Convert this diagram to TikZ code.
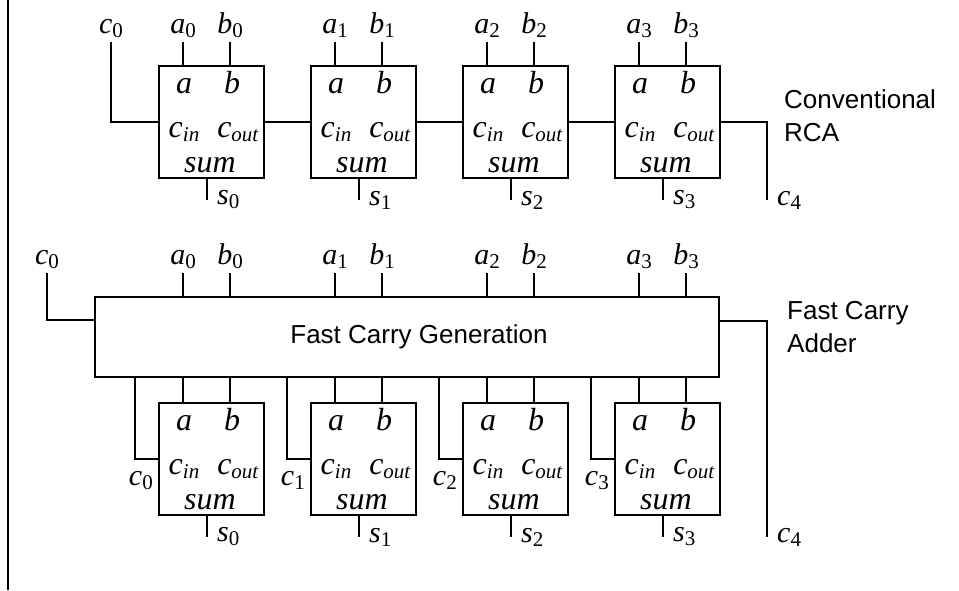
\documentclass[tikz,border=0pt]{standalone}
\usepackage{fontspec}
\setmainfont{Liberation Serif}
\setsansfont{Liberation Sans}
\usetikzlibrary{positioning}
\newcommand{\sublbl}[2]{\textit{#1}\raisebox{-2pt}{\fontsize{10.5}{11}\selectfont #2}}

\begin{document}
\begin{tikzpicture}[x=0.5pt,y=-0.5pt,line width=1.2pt,
  adder/.style={draw,anchor=north west,inner sep=0,minimum width=52.5pt,minimum height=56pt},
  fcg/.style={draw,inner sep=0,minimum width=312pt,minimum height=40pt},
  port/.style={anchor=base,inner sep=0,font=\fontsize{16}{18}\selectfont},
  pinlbl/.style={inner sep=0,font=\fontsize{15}{17}\selectfont},
  side/.style={anchor=north west,inner sep=0,align=left,font=\sffamily\fontsize{13}{16.5}\selectfont}]
  \useasboundingbox (0,0) rectangle (959,590);
  \draw (8,0) -- (8,590);
  %% fast carry generation block
  \node[fcg] at (407,337) (FCG) {};
  \node[inner sep=0,font=\sffamily\fontsize{13}{15}\selectfont] at (419,337) (FCGtxt) {Fast Carry Generation};

  \foreach \i/\xl in {0/158,1/310,2/462,3/614} {
   \foreach \rw/\yt in {R/65,F/402} {
    \node[adder] at (\xl,\yt) (\rw A\i) {};
    \node[port] at (\xl+26,\yt+28) (\rw a\i) {\textit{a}};
    \node[port] at (\xl+74,\yt+28) (\rw b\i) {\textit{b}};
    \node[port] at (\xl+26,\yt+72) (\rw ci\i) {\sublbl{c}{\textit{in}}};
    \node[port] at (\xl+80,\yt+72) (\rw co\i) {\sublbl{c}{\textit{out}}};
    \node[port] at (\xl+52,\yt+107) (\rw sum\i) {\textit{sum}};
    \coordinate (\rw S\i) at (\xl+49,\yt+135);
    \draw (\rw A\i.south -| \rw S\i) -- (\rw S\i);
    \node[pinlbl,right=4.5pt] at (\rw S\i) (\rw s\i) {\sublbl{s}{\i}};
   }
   %% inputs of the ripple row
   \coordinate (RIa\i) at (\xl+25,42);
   \coordinate (RIb\i) at (\xl+72,42);
   \draw (RIa\i) -- (RIa\i |- RA\i.north);
   \draw (RIb\i) -- (RIb\i |- RA\i.north);
   \node[pinlbl,above=1.5pt] at (RIa\i) (Rla\i) {\sublbl{a}{\i}};
   \node[pinlbl,above=1.5pt] at (RIb\i) (Rlb\i) {\sublbl{b}{\i}};
   %% inputs and carries of the fast row
   \coordinate (FIa\i) at (\xl+25,273);
   \coordinate (FIb\i) at (\xl+72,273);
   \draw (FIa\i) -- (FIa\i |- FCG.north);
   \draw (FIb\i) -- (FIb\i |- FCG.north);
   \node[pinlbl,above=1.5pt] at (FIa\i) (Fla\i) {\sublbl{a}{\i}};
   \node[pinlbl,above=1.5pt] at (FIb\i) (Flb\i) {\sublbl{b}{\i}};
   \draw (FIa\i |- FCG.south) -- (FIa\i |- FA\i.north);
   \draw (FIb\i |- FCG.south) -- (FIb\i |- FA\i.north);
   \coordinate (FK\i) at (\xl-23,458);
   \draw (FK\i |- FCG.south) |- (FA\i.west);
   \node[pinlbl,anchor=base east] at (\xl-4,485) (Fc\i) {\sublbl{c}{\i}};
  }

  %% ripple carries
  \foreach \i/\j in {0/1,1/2,2/3} \draw (RA\i.east) -- (RA\j.west);
  \coordinate (RC0) at (111,42);
  \draw (RC0) |- (RA0.west);
  \node[pinlbl,above=1.5pt] at (RC0) (Rc0) {\sublbl{c}{0}};
  \coordinate (RC4) at (767,200);
  \draw (RA3.east) -| (RC4);
  \node[pinlbl,right=4.5pt] at (RC4) (Rc4) {\sublbl{c}{4}};

  %% fast carry in and out
  \coordinate (FC0) at (47,273);
  \draw (FC0) |- ([yshift=8.5pt]FCG.west);
  \node[pinlbl,above=1.5pt] at (FC0) (Fc0in) {\sublbl{c}{0}};
  \coordinate (FC4) at (767,537);
  \draw ([yshift=8pt]FCG.east) -| (FC4);
  \node[pinlbl,right=4.5pt] at (FC4) (Fc4) {\sublbl{c}{4}};

  \node[side] at (783,88) (RCAtxt) {Conventional\\RCA};
  \node[side] at (786,300) (FCAtxt) {Fast Carry\\Adder};
\end{tikzpicture}
\end{document}
